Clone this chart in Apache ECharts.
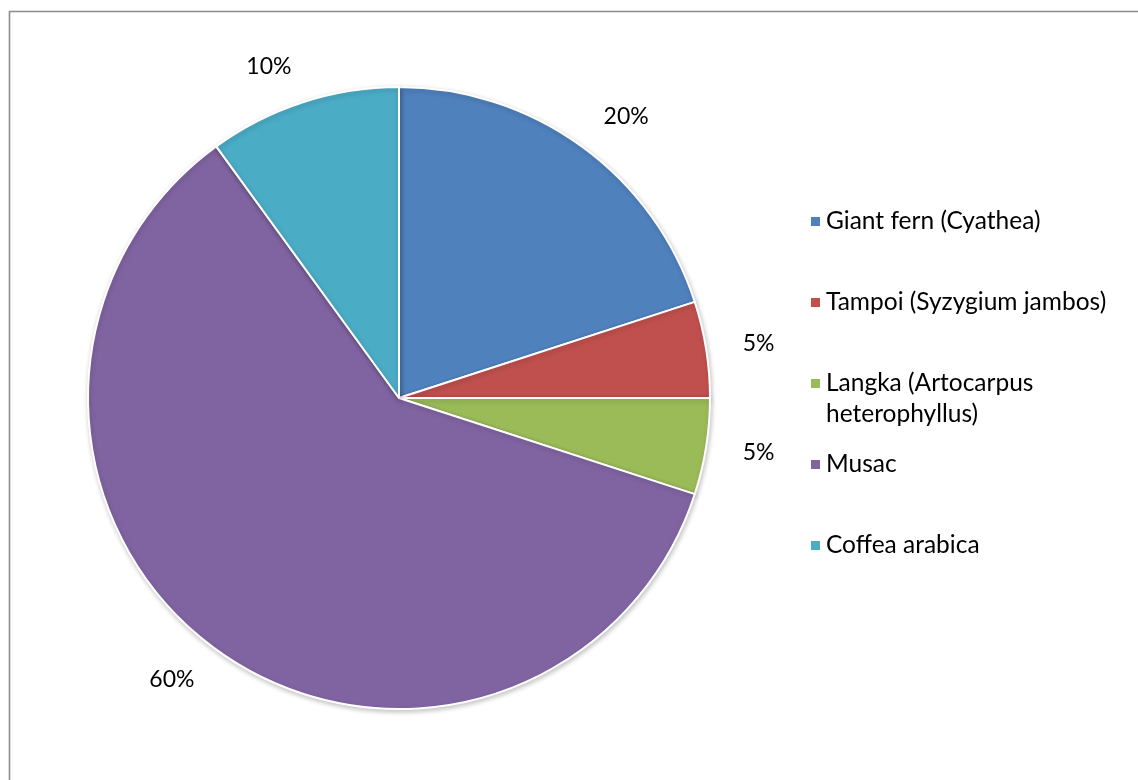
<!DOCTYPE html>
<html>
<head>
<meta charset="utf-8">
<style>
  html, body { margin: 0; padding: 0; background: #fff; }
  #chart { width: 1138px; height: 780px; }
</style>
<script src="https://cdn.jsdelivr.net/npm/echarts@6/dist/echarts.min.js"></script>
</head>
<body>
<div id="chart"></div>
<script>
// Plant composition shares (percent)
const species = [
  'Giant fern (Cyathea)',
  'Tampoi (Syzygium jambos)',
  'Langka (Artocarpus heterophyllus)',
  'Musac',
  'Coffea arabica'
];
const shares = [20, 5, 5, 60, 10];
const sliceColors = ['#4F81BD', '#C0504D', '#9BBB59', '#8064A2', '#4BACC6'];
// Legend text wrapping for long names
const legendWraps = {
  'Langka (Artocarpus heterophyllus)': 'Langka (Artocarpus\nheterophyllus)'
};

const FONT = 'Lato, "Open Sans", sans-serif';

const chart = echarts.init(document.getElementById('chart'), null, { renderer: 'canvas' });

chart.setOption({
  animation: false,
  backgroundColor: '#ffffff',
  graphic: [{
    type: 'rect',
    left: 7, top: 9,
    shape: { x: 0, y: 0, width: 1300, height: 900 },
    style: { fill: 'none', stroke: '#8c8c8c', lineWidth: 1.6 },
    silent: true
  }],
  legend: {
    orient: 'vertical',
    left: 804,
    top: 170,
    itemWidth: 11,
    itemHeight: 11,
    itemGap: -12,
    icon: 'rect',
    data: species,
    formatter: function (name) {
      const text = legendWraps[name] || (name + '\n');
      // keep the icon aligned with the first line of text
      return '\n' + text;
    },
    textStyle: {
      fontFamily: FONT,
      fontSize: 24.5,
      lineHeight: 31,
      color: '#000'
    }
  },
  series: [{
    type: 'pie',
    center: [399, 398],
    radius: 311,
    startAngle: 90,
    clockwise: true,
    avoidLabelOverlap: false,
    data: species.map((n, i) => ({
      name: n,
      value: shares[i],
      itemStyle: { color: sliceColors[i] }
    })),
    itemStyle: {
      borderColor: '#ffffff',
      borderWidth: 2,
      shadowBlur: 5,
      shadowOffsetX: 1,
      shadowOffsetY: 2,
      shadowColor: 'rgba(0,0,0,0.22)'
    },
    label: {
      show: true,
      position: 'outside',
      formatter: '{d}%',
      fontFamily: FONT,
      fontSize: 23,
      color: '#000',
      distanceToLabelLine: 0
    },
    labelLine: { show: false, length: 37, length2: 0 },
    emphasis: { disabled: true }
  }]
});
</script>
</body>
</html>
